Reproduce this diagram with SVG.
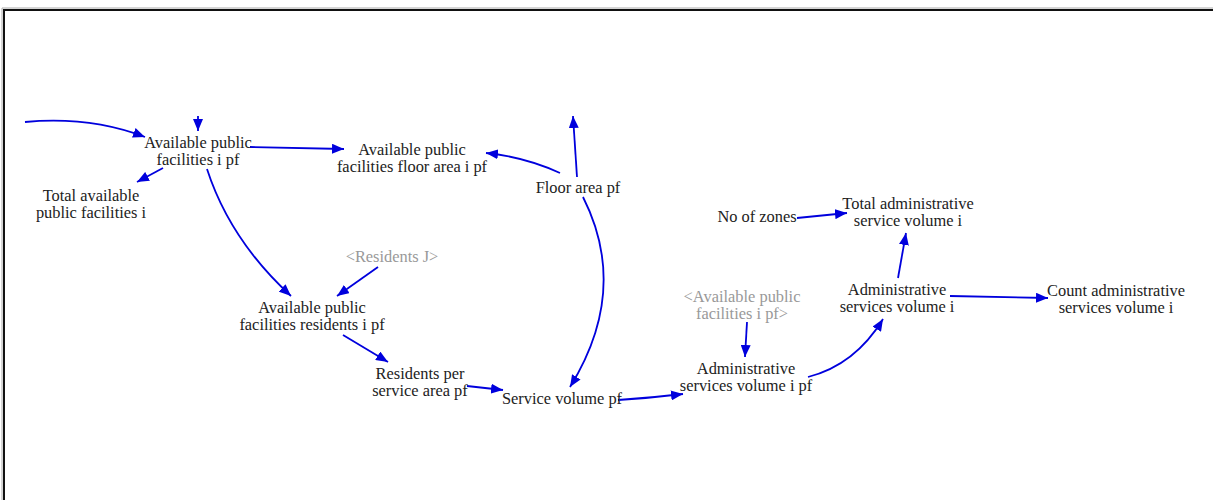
<svg xmlns="http://www.w3.org/2000/svg" width="1213" height="500" viewBox="0 0 1213 500">
<style>
text{font-family:"Liberation Serif","Times New Roman",serif;font-size:16.4px;fill:#222;text-anchor:middle}
text.shadow{fill:#999}
.c{fill:none;stroke:#0000dd;stroke-width:1.8}
</style>
<defs>
<marker id="ah" viewBox="0 0 12 10" refX="12" refY="5" markerWidth="12" markerHeight="10" markerUnits="userSpaceOnUse" orient="auto">
<path d="M0,0 L12,5 L0,10 Z" fill="#0000dd"/>
</marker>
</defs>
<rect width="1213" height="500" fill="#fff"/>
<path d="M4,500 V10 H1213" fill="none" stroke="#111" stroke-width="2"/>
<path d="M2,500 V8 H1213" fill="none" stroke="#aaa" stroke-width="1"/>
<g id="connectors">
<path class="c" marker-end="url(#ah)" d="M25,122 Q90,116 145,137"/>
<path class="c" marker-end="url(#ah)" d="M198,116 L198,131"/>
<path class="c" marker-end="url(#ah)" d="M163,168 L137,182"/>
<path class="c" marker-end="url(#ah)" d="M250,147 L344,149"/>
<path class="c" marker-end="url(#ah)" d="M560,173 Q525,157 486,153"/>
<path class="c" marker-end="url(#ah)" d="M577,177 L573,116"/>
<path class="c" marker-end="url(#ah)" d="M583,197 Q630,290 570,387"/>
<path class="c" marker-end="url(#ah)" d="M207,169 Q230,240 291,296"/>
<path class="c" marker-end="url(#ah)" d="M378,267 L337,296"/>
<path class="c" marker-end="url(#ah)" d="M343,335 L388,362"/>
<path class="c" marker-end="url(#ah)" d="M467,386 L503,390"/>
<path class="c" marker-end="url(#ah)" d="M618,400 Q650,398 683,394"/>
<path class="c" marker-end="url(#ah)" d="M747,322 L745,357"/>
<path class="c" marker-end="url(#ah)" d="M808,377 Q855,365 883,319"/>
<path class="c" marker-end="url(#ah)" d="M898,278 L906,233"/>
<path class="c" marker-end="url(#ah)" d="M797,218 L847,213"/>
<path class="c" marker-end="url(#ah)" d="M950,296 L1048,298"/>
</g>
<g id="available-public-facilities-i-pf"><text x="198" y="148">Available public</text><text x="198" y="165">facilities i pf</text></g>
<g id="total-available-public-facilities-i"><text x="91" y="201">Total available</text><text x="91" y="218">public facilities i</text></g>
<g id="available-public-facilities-floor-area-i-pf"><text x="412" y="155">Available public</text><text x="412" y="172">facilities floor area i pf</text></g>
<g id="floor-area-pf"><text x="578" y="193">Floor area pf</text></g>
<g id="residents-j"><text class="shadow" x="392" y="262">&lt;Residents J&gt;</text></g>
<g id="available-public-facilities-residents-i-pf"><text x="312" y="313">Available public</text><text x="312" y="330">facilities residents i pf</text></g>
<g id="residents-per-service-area-pf"><text x="420" y="379">Residents per</text><text x="420" y="396">service area pf</text></g>
<g id="service-volume-pf"><text x="562" y="404">Service volume pf</text></g>
<g id="available-public-facilities-i-pf-shadow"><text class="shadow" x="742" y="302">&lt;Available public</text><text class="shadow" x="742" y="319">facilities i pf&gt;</text></g>
<g id="administrative-services-volume-i-pf"><text x="746" y="374">Administrative</text><text x="746" y="391">services volume i pf</text></g>
<g id="no-of-zones"><text x="757" y="222">No of zones</text></g>
<g id="total-administrative-service-volume-i"><text x="908" y="209">Total administrative</text><text x="908" y="226">service volume i</text></g>
<g id="administrative-services-volume-i"><text x="897" y="295">Administrative</text><text x="897" y="312">services volume i</text></g>
<g id="count-administrative-services-volume-i"><text x="1116" y="296">Count administrative</text><text x="1116" y="313">services volume i</text></g>
</svg>
